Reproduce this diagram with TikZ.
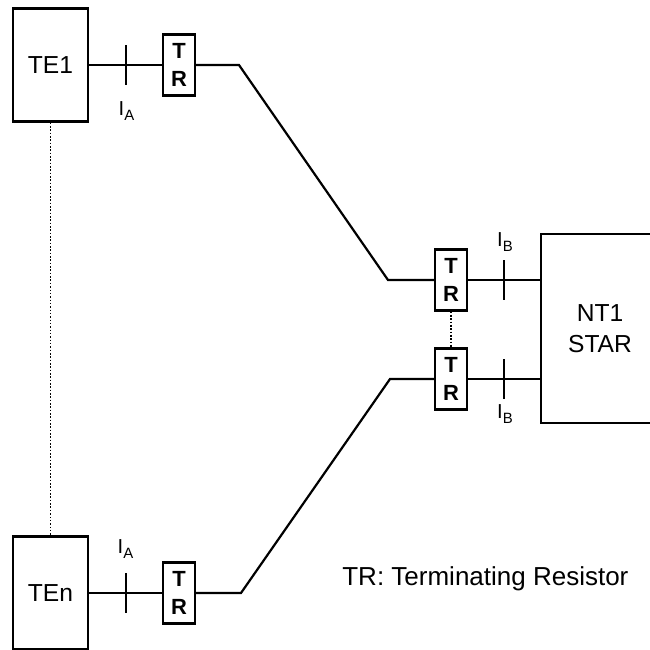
\documentclass[tikz,border=0pt]{standalone}
\usepackage{fontspec}
\setmainfont{Liberation Sans}
\usepackage{tikz}
\usetikzlibrary{
    positioning,
    calc
}
% reference point label, e.g. I with a lowered A
\newcommand{\refpt}[1]{I\raisebox{-2.8pt}{\fontsize{8.5}{9}\selectfont #1}}
\tikzset{
    % Base style for the equipment boxes
    unit base/.style={
        draw,
        line width=1.25pt,
        font=\fontsize{14}{18}\selectfont,
        align=center,
        inner sep=0pt,
    },
    % Terminal equipment
    te box/.style={
        unit base,
        minimum width=1.5cm,
        minimum height=2.26cm,
    },
    % Network termination
    nt box/.style={
        unit base,
        minimum width=2.36cm,
        minimum height=3.78cm,
    },
    % Terminating resistor - narrow box, bold letters
    resistor/.style={
        draw,
        line width=1.25pt,
        font=\fontsize{12.5}{15.5}\selectfont\bfseries,
        align=center,
        inner sep=0pt,
        minimum width=0.64cm,
        minimum height=1.22cm,
    },
    % Plain wire
    wire/.style={
        line width=1.25pt,
    },
    % Dotted "and so on" link
    more link/.style={
        line width=0.9pt,
        dash pattern=on 0.9pt off 1pt,
    },
    % Short tick across a wire
    iface tick/.style={
        line width=1.25pt,
    },
    % Label of a reference point
    point label/.style={
        font=\fontsize{11.5}{13}\selectfont,
        inner sep=0pt,
        anchor=north,
    },
    % Legend text
    legend/.style={
        font=\fontsize{14.8}{18}\selectfont,
        inner sep=0pt,
        anchor=base west,
    },
}

\begin{document}
\begin{tikzpicture}[x=0.02cm, y=-0.02cm]
    \clip (0,0) rectangle (650,650);

    \node (te1) [te box] at (50.5,65) {TE1};
    \node (ten) [te box] at (50.5,593) {TEn};
    \node (nt1) [nt box] at (600,328.5) {NT1\\STAR};

    \node (tr_te1) [resistor] at (179,65) {T\\R};
    \node (tr_ten) [resistor] at (179,593) {T\\R};
    \node (tr_nt1) [resistor] at (451,280) {T\\R};
    \node (tr_nt2) [resistor] at (451,379) {T\\R};

    \coordinate (knee_1) at (239,65);
    \coordinate (knee_2) at (388,280);
    \coordinate (knee_3) at (241,593);
    \coordinate (knee_4) at (390,379);

    \coordinate (ia_1) at (126,65);
    \coordinate (ia_n) at (126,593);
    \coordinate (ib_1) at (504,280);
    \coordinate (ib_2) at (504,379);

    % bus wires
    \draw [wire] (te1) -- (tr_te1);
    \draw [wire] (tr_te1) -- (knee_1) -- (knee_2) -- (tr_nt1);
    \draw [wire] (ten) -- (tr_ten);
    \draw [wire] (tr_ten) -- (knee_3) -- (knee_4) -- (tr_nt2);
    \draw [wire] (tr_nt1) -- (tr_nt1 -| nt1.west);
    \draw [wire] (tr_nt2) -- (tr_nt2 -| nt1.west);

    % more terminals / more resistors
    \draw [more link] (te1) -- (ten);
    \draw [more link] (tr_nt1) -- (tr_nt2);

    % reference points
    \draw [iface tick] (ia_1) ++(0,-20) -- ++(0,40);
    \draw [iface tick] (ia_n) ++(0,-20) -- ++(0,40);
    \draw [iface tick] (ib_1) ++(0,-20) -- ++(0,40);
    \draw [iface tick] (ib_2) ++(0,-20) -- ++(0,40);

    \node (lbl_ia1) [point label] at (126.5,101) {\refpt{A}};
    \node (lbl_ian) [point label] at (125.5,539) {\refpt{A}};
    \node (lbl_ib1) [point label] at (505,232) {\refpt{B}};
    \node (lbl_ib2) [point label] at (505,404) {\refpt{B}};

    \node (note) [legend] at (342,585) {TR: Terminating Resistor};
\end{tikzpicture}
\end{document}
